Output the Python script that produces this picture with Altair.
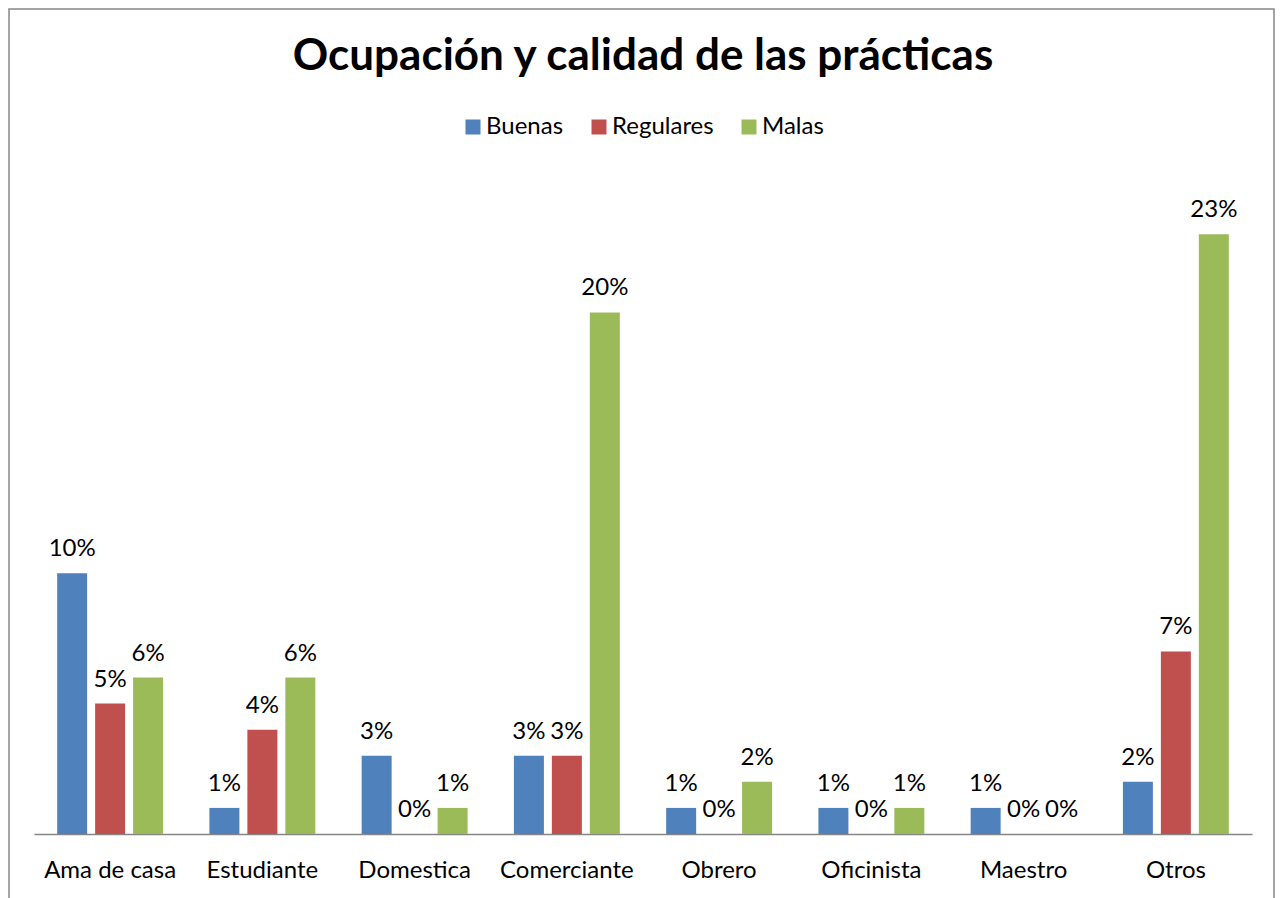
import altair as alt
import pandas as pd

categories = ["Ama de casa", "Estudiante", "Domestica", "Comerciante", "Obrero", "Oficinista", "Maestro", "Otros"]
series = ["Buenas", "Regulares", "Malas"]
buenas = [0.10, 0.01, 0.03, 0.03, 0.01, 0.01, 0.01, 0.02]
regulares = [0.05, 0.04, 0.00, 0.03, 0.00, 0.00, 0.00, 0.07]
malas = [0.06, 0.06, 0.01, 0.20, 0.02, 0.01, 0.00, 0.23]
colors = ["#4F81BD", "#C0504D", "#9BBB59"]
title_text = "Ocupación y calidad de las prácticas"

rows = []
for s, vals in zip(series, [buenas, regulares, malas]):
    for c, v in zip(categories, vals):
        rows.append({"Ocupacion": c, "Serie": s, "Valor": v})
df = pd.DataFrame(rows)

FONT = "Lato"
W, H = 1218, 652

x = alt.X("Ocupacion:N", sort=categories, title=None,
          scale=alt.Scale(paddingInner=0, paddingOuter=0),
          axis=alt.Axis(labelAngle=0, labelFontSize=24, labelFont=FONT, labelColor="#000000",
                        ticks=False, domainColor="#868686", domainWidth=1.5, labelPadding=24))
xo = alt.XOffset("Serie:N", sort=series, scale=alt.Scale(paddingInner=0.21, paddingOuter=0.61))
y = alt.Y("Valor:Q", scale=alt.Scale(domain=[0, 0.25]), axis=None)

base = alt.Chart(df)
bars = base.mark_bar().encode(
    x=x, xOffset=xo, y=y,
    color=alt.Color("Serie:N", sort=series, scale=alt.Scale(domain=series, range=colors),
                    legend=alt.Legend(title=None, orient="none", direction="horizontal",
                                      legendX=427, legendY=-67, symbolType="square",
                                      symbolSize=225, symbolStrokeWidth=0, labelFontSize=24,
                                      labelFont=FONT, labelColor="#000000", columnPadding=23,
                                      labelOffset=1)),
)
labels = base.mark_text(baseline="alphabetic", dy=-17, fontSize=24, font=FONT, color="#000000").encode(
    x=x, xOffset=xo, y=y, text=alt.Text("Valor:Q", format=".0%"),
)

frame = alt.Chart(pd.DataFrame({"k": [0]})).mark_rect(fill=None, stroke="#888888", strokeWidth=1.5).encode(
    x=alt.value(-25), x2=alt.value(1240), y=alt.value(-173), y2=alt.value(760),
)
title = alt.Chart(pd.DataFrame({"t": [title_text]})).mark_text(
    fontSize=44, font=FONT, fontWeight="bold", color="#000000", align="center", baseline="alphabetic"
).encode(x=alt.value(W / 2), y=alt.value(-112), text="t:N")

chart = alt.layer(frame, title, bars, labels).properties(
    width=W, height=H,
    autosize=alt.AutoSizeParams(type="none"),
    padding={"left": 26, "top": 174, "right": 23, "bottom": 64},
).configure_view(stroke=None)

chart.save("out.html", embed_options={"renderer": "svg", "actions": False})
